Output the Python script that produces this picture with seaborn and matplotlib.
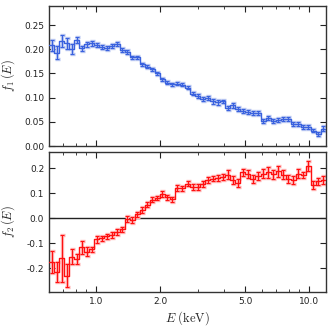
import numpy as np
import seaborn as sns
import matplotlib
matplotlib.use("Agg")
import matplotlib.pyplot as plt
from matplotlib.ticker import FormatStrFormatter, FixedLocator

# energy bin edges (keV)
edges = [0.600, 0.634, 0.669, 0.707, 0.746, 0.788, 0.832, 0.879, 0.928, 0.980,
         1.034, 1.092, 1.153, 1.218, 1.286, 1.358, 1.434, 1.515, 1.599, 1.689,
         1.783, 1.883, 1.989, 2.100, 2.217, 2.341, 2.473, 2.611, 2.757, 2.911,
         3.074, 3.246, 3.428, 3.620, 3.823, 4.037, 4.263, 4.501, 4.753, 5.019,
         5.300, 5.597, 5.910, 6.241, 6.590, 6.959, 7.349, 7.760, 8.194, 8.653,
         9.137, 9.649, 10.189, 10.759, 11.361, 11.997]

f1 = [0.208, 0.193, 0.217, 0.212, 0.201, 0.219, 0.202, 0.210, 0.212, 0.208,
      0.205, 0.202, 0.207, 0.210, 0.198, 0.195, 0.183, 0.183, 0.169, 0.164,
      0.159, 0.150, 0.138, 0.131, 0.128, 0.129, 0.127, 0.120, 0.108, 0.103,
      0.097, 0.099, 0.092, 0.090, 0.092, 0.079, 0.084, 0.077, 0.073, 0.070,
      0.068, 0.068, 0.051, 0.058, 0.051, 0.054, 0.055, 0.055, 0.046, 0.045,
      0.040, 0.039, 0.032, 0.024, 0.036]
f1_err = [0.011, 0.013, 0.013, 0.012, 0.010, 0.007, 0.005, 0.005, 0.005, 0.004,
          0.004, 0.004, 0.004, 0.004, 0.004, 0.004, 0.003, 0.003, 0.003, 0.003,
          0.003, 0.003, 0.003, 0.003, 0.003, 0.003, 0.003, 0.003, 0.003, 0.004,
          0.004, 0.004, 0.005, 0.005, 0.004, 0.004, 0.005, 0.004, 0.004, 0.004,
          0.004, 0.004, 0.004, 0.005, 0.004, 0.004, 0.004, 0.004, 0.004, 0.004,
          0.004, 0.004, 0.004, 0.004, 0.005]

f2 = [-0.176, -0.213, -0.160, -0.229, -0.153, -0.163, -0.116, -0.133, -0.124, -0.084,
      -0.080, -0.071, -0.067, -0.056, -0.043, -0.003, -0.007, 0.016, 0.033, 0.053,
      0.073, 0.080, 0.096, 0.084, 0.076, 0.120, 0.120, 0.137, 0.124, 0.124,
      0.137, 0.151, 0.157, 0.160, 0.164, 0.173, 0.153, 0.140, 0.183, 0.177,
      0.156, 0.169, 0.177, 0.184, 0.176, 0.187, 0.173, 0.156, 0.153, 0.177,
      0.171, 0.209, 0.133, 0.147, 0.153]
f2_err = [0.044, 0.040, 0.095, 0.047, 0.030, 0.020, 0.025, 0.017, 0.010, 0.015,
          0.010, 0.010, 0.012, 0.012, 0.010, 0.012, 0.012, 0.010, 0.010, 0.010,
          0.010, 0.008, 0.012, 0.010, 0.010, 0.012, 0.010, 0.010, 0.012, 0.012,
          0.012, 0.012, 0.010, 0.012, 0.012, 0.018, 0.015, 0.015, 0.015, 0.015,
          0.015, 0.015, 0.018, 0.022, 0.018, 0.022, 0.018, 0.015, 0.015, 0.018,
          0.012, 0.020, 0.015, 0.015, 0.015]

sns.set_style("ticks")
plt.rcParams.update({
    "mathtext.fontset": "cm",
    "axes.edgecolor": "#333333",
    "axes.linewidth": 1.0,
    "xtick.direction": "in",
    "ytick.direction": "in",
    "xtick.top": True,
    "ytick.right": True,
    "xtick.major.size": 4,
    "ytick.major.size": 4,
    "xtick.minor.size": 2,
    "xtick.labelsize": 6.5,
    "ytick.labelsize": 6.5,
    "xtick.color": "#222222",
    "ytick.color": "#222222",
})
plt.rcParams["font.family"] = ["DejaVu Sans"]

centers = np.sqrt(np.array(edges[:-1]) * np.array(edges[1:]))

fig = plt.figure(figsize=(3.32, 3.29), dpi=100)
ax1 = fig.add_axes([0.1476, 0.5562, 0.8344, 0.4265])
ax2 = fig.add_axes([0.1476, 0.1115, 0.8344, 0.4274])


def panel(ax, vals, errs, col, halo):
    # light halo under the error bars, then the thin bars on top
    ax.errorbar(centers, vals, yerr=errs, fmt="none", ecolor=halo, elinewidth=2.4,
                capsize=1.8, capthick=2.4, zorder=1)
    ax.errorbar(centers, vals, yerr=errs, fmt="none", ecolor=col, elinewidth=0.8,
                capsize=1.6, capthick=0.8, zorder=2)
    sns.lineplot(x=edges, y=list(vals) + [vals[-1]], drawstyle="steps-post",
                 color=col, linewidth=1.0, ax=ax, zorder=3)
    ax.set_xscale("log")
    ax.set_xlim(0.6, 12.0)
    ax.xaxis.set_major_locator(FixedLocator([1.0, 2.0, 5.0, 10.0]))
    ax.xaxis.set_major_formatter(FormatStrFormatter("%.1f"))
    ax.xaxis.set_minor_formatter(plt.NullFormatter())


panel(ax1, f1, f1_err, "#3a62de", "#b9c7f2")
panel(ax2, f2, f2_err, "#ff1010", "#ffb3b3")

ax1.set_ylim(0, 0.29)
ax1.set_yticks([0.0, 0.05, 0.10, 0.15, 0.20, 0.25])
ax1.yaxis.set_major_formatter(FormatStrFormatter("%.2f"))
ax1.tick_params(axis="x", which="both", labelbottom=False)
ax1.set_ylabel(r"$f_1\,(E)$", fontsize=9)

ax2.axhline(0, color="#222222", linewidth=1.0, zorder=0)
ax2.set_ylim(-0.296, 0.266)
ax2.set_yticks([-0.2, -0.1, 0.0, 0.1, 0.2])
ax2.yaxis.set_major_formatter(FormatStrFormatter("%.1f"))
ax2.set_ylabel(r"$f_2\,(E)$", fontsize=9)
ax2.set_xlabel(r"$E\ (\mathrm{keV})$", fontsize=9, labelpad=2)

ax1.yaxis.set_label_coords(-0.115, 0.5)
ax2.yaxis.set_label_coords(-0.115, 0.5)

fig.savefig("out.png", dpi=100)
